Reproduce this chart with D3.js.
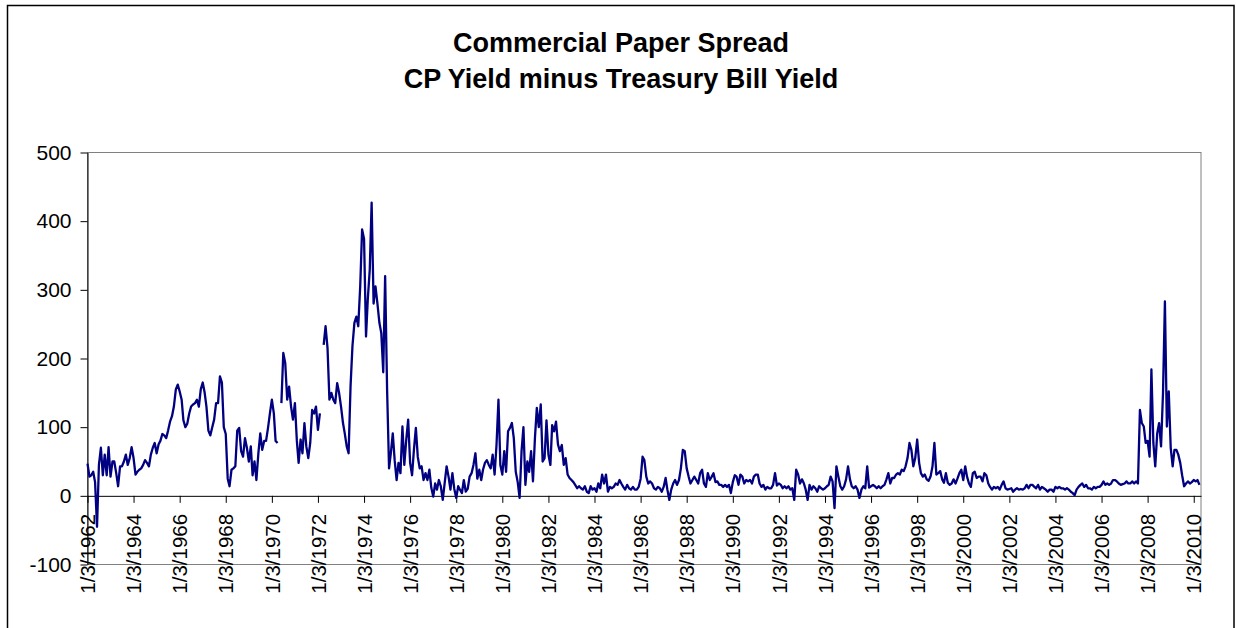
<!DOCTYPE html>
<html>
<head>
<meta charset="utf-8">
<script src="https://cdn.jsdelivr.net/npm/d3@7"></script>
<style>
  html, body { margin: 0; padding: 0; background: #ffffff; }
  svg { display: block; font-family: Arial, "Liberation Sans", sans-serif; }
</style>
</head>
<body>
<svg id="chart" width="1236" height="628"></svg>
<script>
// Chart text
const titleLines = ["Commercial Paper Spread", "CP Yield minus Treasury Bill Yield"];

// Axis settings
const yTickValues = [-100, 0, 100, 200, 300, 400, 500];
const xTickYears = [1962, 1964, 1966, 1968, 1970, 1972, 1974, 1976, 1978, 1980, 1982, 1984,
                    1986, 1988, 1990, 1992, 1994, 1996, 1998, 2000, 2002, 2004, 2006, 2008, 2010];
const seriesStart = [1962, 0, 3];   // first observation: 1/3/1962, then one per month
const axisEnd = [2010, 3, 28];

// CP yield minus T-bill yield, basis points, one value per month (null = no quote)
const spread1960s = [
  47, 28, 30, 35, 20, -45, 45, 70, 30, 60, 30, 71,            // 1962
  28, 50, 50, 33, 14, 43, 43, 50, 60, 45, 55, 71,             // 1963
  55, 31, 35, 38, 40, 45, 52, 48, 43, 60, 70, 77,             // 1964
  62, 75, 80, 90, 88, 84, 95, 108, 116, 130, 155, 162,        // 1965
  152, 140, 110, 100, 105, 120, 130, 133, 135, 140, 130, 155, // 1966
  165, 150, 130, 95, 88, 100, 111, 135, 135, 174, 165, 100,   // 1967
  90, 25, 14, 38, 40, 43, 95, 99, 65, 57, 84, 70,             // 1968
  50, 72, 30, 50, 23, 62, 91, 67, 80, 80, 99, 120             // 1969
];
const spread1970s = [
  140, 120, 80, 77, null, 135, 208, 193, 140, 159, 130, 111,  // 1970
  135, 80, 48, 82, 62, 106, 72, 55, 77, 125, 120, 130,        // 1971
  96, 120, null, 220, 247, 215, 140, 150, 140, 135, 164, 150, // 1972
  130, 106, 91, 72, 62, 160, 218, 252, 261, 247, 305, 388,    // 1973
  374, 232, 286, 329, 427, 280, 305, 280, 252, 237, 180, 320, // 1974
  155, 40, 62, 91, 52, 23, 48, 33, 101, 45, 82, 111,          // 1975
  48, 30, 67, 99, 57, 40, 43, 23, 33, 23, 38, 12,             // 1976
  -1, 18, 9, 23, 14, -6, 18, 43, 28, 9, 33, 10,               // 1977
  -3, 14, 9, 4, 23, 6, 10, 28, 33, 45, 62, 25,                // 1978
  38, 23, 38, 48, 52, 45, 40, 60, 31, 74, 140, 45             // 1979
];
const spread1980s = [
  31, 65, 35, 94, 99, 106, 84, 35, 20, -3, 65, 100,           // 1980
  16, 50, 35, 65, 21, 84, 128, 100, 133, 50, 55, 110,         // 1981
  60, 45, 103, 94, 108, 75, 65, 74, 45, 55, 31, 26,           // 1982
  23, 20, 16, 11, 14, 11, 9, 14, 6, 4, 14, 9,                 // 1983
  11, 6, 18, 11, 31, 18, 31, 6, 13, 11, 13, 18,               // 1984
  16, 23, 18, 13, 9, 16, 11, 9, 13, 9, 9, 13,                 // 1985
  25, 57, 52, 28, 18, 21, 18, 11, 9, 13, 11, 6,               // 1986
  13, 26, 9, -6, 9, 18, 23, 16, 23, 40, 67, 65,               // 1987
  40, 28, 18, 23, 28, 23, 18, 33, 38, 18, 13, 33,             // 1988
  23, 28, 33, 20, 21, 16, 16, 13, 16, 13, 16, 4               // 1989
];
const spread1990s = [
  20, 30, 28, 16, 31, 28, 18, 23, 21, 23, 18, 28,             // 1990
  31, 31, 18, 13, 16, 9, 13, 11, 11, 16, 33, 15,              // 1991
  18, 16, 11, 14, 11, 14, 9, 11, -6, 38, 31, 18,              // 1992
  24, 18, 9, -6, 16, 9, 14, 11, 6, 14, 11, 9,                 // 1993
  11, 14, 16, 28, 21, -18, 43, 28, 14, 9, 14, 24,             // 1994
  43, 24, 14, 11, 14, 9, -3, 9, 14, 11, 43, 12,               // 1995
  14, 16, 14, 11, 14, 11, 14, 16, 24, 33, 18, 26,             // 1996
  26, 31, 33, 31, 38, 36, 43, 55, 77, 67, 43, 55,             // 1997
  82, 48, 33, 28, 31, 24, 22, 28, 43, 77, 31, 33,             // 1998
  36, 24, 19, 33, 19, 16, 18, 24, 18, 25, 33, 38              // 1999
];
const spread2000s = [
  23, 43, 28, 18, 13, 33, 35, 26, 28, 28, 21, 33,             // 2000
  30, 18, 13, 9, 13, 11, 13, 9, 16, 21, 11, 9,                // 2001
  10, 11, 6, 9, 11, 9, 10, 9, 11, 16, 11, 16,                 // 2002
  16, 13, 11, 16, 9, 13, 11, 9, 6, 9, 9, 6,                   // 2003
  13, 11, 13, 11, 11, 9, 11, 9, 6, 4, 1, 9,                   // 2004
  13, 16, 18, 13, 16, 11, 11, 9, 13, 11, 13, 13,              // 2005
  16, 21, 16, 18, 16, 18, 23, 23, 21, 18, 16, 17,             // 2006
  18, 21, 18, 18, 21, 18, 21, 18, 125, 106, 101, 77,          // 2007
  80, 57, 184, 77, 43, 91, 106, 72, 150, 283, 101, 152,       // 2008
  70, 43, 67, 67, 60, 48, 30, 14, 18, 21, 18, 20,             // 2009
  23, 21, 23, 16                                              // 2010
];

// ---- layout ----
const plot = { left: 87.5, right: 1201, top: 152.5, bottom: 564.5 };
const lineColor = "#000080";
const labelFont = "Arial, 'Liberation Sans', sans-serif";

const svg = d3.select("#chart");

// outer chart frame
svg.append("rect")
  .attr("x", 7.5).attr("y", 5.5)
  .attr("width", 1226.5).attr("height", 640)
  .attr("fill", "#ffffff")
  .attr("stroke", "#000000").attr("stroke-width", 1.5);

// title
const title = svg.append("text")
  .attr("text-anchor", "middle")
  .attr("font-weight", "bold")
  .attr("font-size", 27)
  .attr("fill", "#000000");
titleLines.forEach((t, i) => {
  title.append("tspan").attr("x", 621).attr("y", 52 + i * 36).text(t);
});

// series
const start = new Date(seriesStart[0], seriesStart[1], seriesStart[2]);
const values = [].concat(spread1960s, spread1970s, spread1980s, spread1990s, spread2000s);
const data = values.map((v, i) => ({ date: d3.timeMonth.offset(start, i), value: v }));

const x = d3.scaleTime()
  .domain([start, new Date(axisEnd[0], axisEnd[1], axisEnd[2])])
  .range([plot.left, plot.right]);
const y = d3.scaleLinear()
  .domain([d3.min(yTickValues), d3.max(yTickValues)])
  .range([plot.bottom, plot.top]);

// plot area border
svg.append("rect")
  .attr("x", plot.left).attr("y", plot.top)
  .attr("width", plot.right - plot.left).attr("height", plot.bottom - plot.top)
  .attr("fill", "none")
  .attr("stroke", "#808080").attr("stroke-width", 1);

// y axis
const yAxis = svg.append("g")
  .attr("transform", `translate(${plot.left},0)`)
  .call(d3.axisLeft(y).tickValues(yTickValues)
    .tickFormat(d => String(d))
    .tickSize(7).tickSizeOuter(0).tickPadding(9));
yAxis.select(".domain").attr("stroke", "#000000");
yAxis.selectAll(".tick line").attr("stroke", "#000000");
yAxis.selectAll(".tick text")
  .attr("font-size", 21)
  .attr("font-family", labelFont)
  .attr("fill", "#000000");

// x axis crosses at zero
const tickDates = xTickYears.map(yr => new Date(yr, 0, 3));
const xAxis = svg.append("g")
  .attr("transform", `translate(0,${y(0)})`)
  .call(d3.axisBottom(x).tickValues(tickDates)
    .tickFormat(d3.timeFormat("%-m/%-d/%Y"))
    .tickSize(7).tickSizeOuter(0));
xAxis.select(".domain").attr("stroke", "#000000");
xAxis.selectAll(".tick line").attr("stroke", "#000000");
xAxis.selectAll(".tick text")
  .attr("font-size", 20.5)
  .attr("font-family", labelFont)
  .attr("fill", "#000000")
  .attr("transform", "rotate(-90)")
  .attr("text-anchor", "end")
  .attr("x", -18)
  .attr("y", 0)
  .attr("dy", "0.35em");

// spread line
const line = d3.line()
  .defined(d => d.value !== null)
  .x(d => x(d.date))
  .y(d => y(d.value));

svg.append("path")
  .datum(data)
  .attr("fill", "none")
  .attr("stroke", lineColor)
  .attr("stroke-width", 2.3)
  .attr("stroke-linejoin", "round")
  .attr("d", line);
</script>
</body>
</html>
